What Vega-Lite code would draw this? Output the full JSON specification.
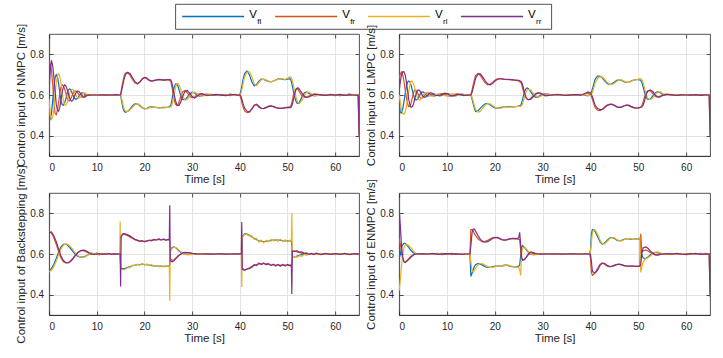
{
"$schema": "https://vega.github.io/schema/vega-lite/v6.json",
"padding": {"left": 14, "top": 3, "right": 5, "bottom": 5},
"config": {
  "font": "Liberation Sans",
  "view": {"stroke": "#262626", "strokeWidth": 0.8},
  "range": {"category": ["#0072BD", "#D95319", "#EDB120", "#7E2F8E"]},
  "axis": {"domainColor": "#262626", "tickColor": "#262626", "labelColor": "#262626", "titleColor": "#262626", "labelFontSize": 10, "titleFontSize": 11.5, "titleFontWeight": "normal", "gridColor": "#e3e3e3", "gridWidth": 1, "tickSize": -4, "domainWidth": 0.8, "tickWidth": 0.8}
},
"datasets": {
"n": [
{"t":0,"fl":0.5,"fr":0.765,"rl":0.58,"rr":0.62},
{"t":0.25,"fl":0.485,"fr":0.755,"rl":0.5,"rr":0.72},
{"t":0.5,"fl":0.51,"fr":0.72,"rl":0.48,"rr":0.77},
{"t":0.75,"fl":0.57,"fr":0.655,"rl":0.49,"rr":0.745},
{"t":1,"fl":0.635,"fr":0.57,"rl":0.53,"rr":0.69},
{"t":1.25,"fl":0.685,"fr":0.51,"rl":0.6,"rr":0.62},
{"t":1.5,"fl":0.7,"fr":0.503,"rl":0.66,"rr":0.555},
{"t":1.75,"fl":0.69,"fr":0.525,"rl":0.695,"rr":0.525},
{"t":2,"fl":0.655,"fr":0.565,"rl":0.705,"rr":0.52},
{"t":2.25,"fl":0.61,"fr":0.61,"rl":0.69,"rr":0.54},
{"t":2.5,"fl":0.57,"fr":0.64,"rl":0.655,"rr":0.575},
{"t":2.75,"fl":0.552,"fr":0.65,"rl":0.61,"rr":0.615},
{"t":3,"fl":0.55,"fr":0.645,"rl":0.57,"rr":0.64},
{"t":3.25,"fl":0.56,"fr":0.63,"rl":0.552,"rr":0.65},
{"t":3.5,"fl":0.58,"fr":0.61,"rl":0.55,"rr":0.645},
{"t":3.75,"fl":0.605,"fr":0.588,"rl":0.56,"rr":0.63},
{"t":4,"fl":0.623,"fr":0.573,"rl":0.58,"rr":0.61},
{"t":4.25,"fl":0.63,"fr":0.57,"rl":0.603,"rr":0.59},
{"t":4.5,"fl":0.627,"fr":0.578,"rl":0.62,"rr":0.575},
{"t":4.75,"fl":0.615,"fr":0.593,"rl":0.628,"rr":0.57},
{"t":5,"fl":0.6,"fr":0.607,"rl":0.628,"rr":0.575},
{"t":5.25,"fl":0.587,"fr":0.617,"rl":0.618,"rr":0.59},
{"t":5.5,"fl":0.58,"fr":0.62,"rl":0.605,"rr":0.605},
{"t":5.75,"fl":0.58,"fr":0.617,"rl":0.593,"rr":0.615},
{"t":6,"fl":0.585,"fr":0.61,"rl":0.586,"rr":0.62},
{"t":6.25,"fl":0.594,"fr":0.602,"rl":0.585,"rr":0.617},
{"t":6.5,"fl":0.603,"fr":0.595,"rl":0.59,"rr":0.61},
{"t":6.75,"fl":0.609,"fr":0.59,"rl":0.598,"rr":0.602},
{"t":7,"fl":0.61,"fr":0.59,"rl":0.605,"rr":0.595},
{"t":7.25,"fl":0.607,"fr":0.592,"rl":0.61,"rr":0.59},
{"t":7.5,"fl":0.602,"fr":0.597,"rl":0.61,"rr":0.59},
{"t":7.75,"fl":0.598,"fr":0.6,"rl":0.606,"rr":0.594},
{"t":8,"fl":0.598,"fr":0.602,"rl":0.601,"rr":0.598},
{"t":9,"fl":0.6,"fr":0.601,"rl":0.599,"rr":0.6},
{"t":10,"fl":0.601,"fr":0.599,"rl":0.602,"rr":0.6},
{"t":11,"fl":0.599,"fr":0.6,"rl":0.6,"rr":0.601},
{"t":12,"fl":0.6,"fr":0.602,"rl":0.598,"rr":0.599},
{"t":13,"fl":0.601,"fr":0.599,"rl":0.601,"rr":0.6},
{"t":14,"fl":0.6,"fr":0.601,"rl":0.6,"rr":0.602},
{"t":14.75,"fl":0.6,"fr":0.6,"rl":0.601,"rr":0.6},
{"t":15,"fl":0.598,"fr":0.603,"rl":0.6,"rr":0.6},
{"t":15.25,"fl":0.565,"fr":0.64,"rl":0.58,"rr":0.625},
{"t":15.5,"fl":0.535,"fr":0.67,"rl":0.55,"rr":0.655},
{"t":15.75,"fl":0.52,"fr":0.695,"rl":0.53,"rr":0.68},
{"t":16,"fl":0.515,"fr":0.708,"rl":0.522,"rr":0.7},
{"t":16.5,"fl":0.52,"fr":0.71,"rl":0.52,"rr":0.712},
{"t":17,"fl":0.532,"fr":0.695,"rl":0.528,"rr":0.705},
{"t":17.5,"fl":0.547,"fr":0.675,"rl":0.54,"rr":0.685},
{"t":18,"fl":0.556,"fr":0.66,"rl":0.552,"rr":0.665},
{"t":18.5,"fl":0.557,"fr":0.655,"rl":0.557,"rr":0.655},
{"t":19,"fl":0.548,"fr":0.665,"rl":0.552,"rr":0.662},
{"t":19.5,"fl":0.537,"fr":0.68,"rl":0.54,"rr":0.677},
{"t":20,"fl":0.532,"fr":0.686,"rl":0.533,"rr":0.686},
{"t":20.5,"fl":0.535,"fr":0.68,"rl":0.532,"rr":0.683},
{"t":21,"fl":0.54,"fr":0.671,"rl":0.537,"rr":0.673},
{"t":21.5,"fl":0.542,"fr":0.668,"rl":0.541,"rr":0.668},
{"t":22,"fl":0.54,"fr":0.672,"rl":0.54,"rr":0.671},
{"t":23,"fl":0.537,"fr":0.676,"rl":0.538,"rr":0.677},
{"t":24,"fl":0.539,"fr":0.672,"rl":0.537,"rr":0.674},
{"t":25,"fl":0.541,"fr":0.675,"rl":0.54,"rr":0.676},
{"t":25.5,"fl":0.548,"fr":0.668,"rl":0.54,"rr":0.675},
{"t":25.75,"fl":0.575,"fr":0.64,"rl":0.55,"rr":0.66},
{"t":26,"fl":0.61,"fr":0.605,"rl":0.575,"rr":0.63},
{"t":26.25,"fl":0.64,"fr":0.575,"rl":0.605,"rr":0.6},
{"t":26.5,"fl":0.654,"fr":0.555,"rl":0.635,"rr":0.572},
{"t":26.75,"fl":0.655,"fr":0.548,"rl":0.652,"rr":0.555},
{"t":27,"fl":0.645,"fr":0.552,"rl":0.656,"rr":0.548},
{"t":27.25,"fl":0.625,"fr":0.565,"rl":0.65,"rr":0.55},
{"t":27.5,"fl":0.605,"fr":0.585,"rl":0.635,"rr":0.56},
{"t":27.75,"fl":0.588,"fr":0.603,"rl":0.615,"rr":0.575},
{"t":28,"fl":0.578,"fr":0.615,"rl":0.595,"rr":0.593},
{"t":28.5,"fl":0.577,"fr":0.622,"rl":0.575,"rr":0.618},
{"t":29,"fl":0.59,"fr":0.61,"rl":0.578,"rr":0.622},
{"t":29.5,"fl":0.606,"fr":0.594,"rl":0.595,"rr":0.608},
{"t":30,"fl":0.614,"fr":0.586,"rl":0.61,"rr":0.592},
{"t":30.5,"fl":0.61,"fr":0.59,"rl":0.615,"rr":0.585},
{"t":31,"fl":0.6,"fr":0.6,"rl":0.608,"rr":0.592},
{"t":31.5,"fl":0.594,"fr":0.606,"rl":0.598,"rr":0.602},
{"t":32,"fl":0.596,"fr":0.605,"rl":0.593,"rr":0.607},
{"t":32.5,"fl":0.602,"fr":0.6,"rl":0.597,"rr":0.603},
{"t":33,"fl":0.604,"fr":0.597,"rl":0.603,"rr":0.598},
{"t":34,"fl":0.6,"fr":0.602,"rl":0.605,"rr":0.6},
{"t":35,"fl":0.598,"fr":0.6,"rl":0.6,"rr":0.603},
{"t":36,"fl":0.602,"fr":0.598,"rl":0.597,"rr":0.599},
{"t":37,"fl":0.6,"fr":0.603,"rl":0.601,"rr":0.597},
{"t":38,"fl":0.604,"fr":0.597,"rl":0.602,"rr":0.601},
{"t":39,"fl":0.598,"fr":0.6,"rl":0.597,"rr":0.603},
{"t":39.5,"fl":0.601,"fr":0.602,"rl":0.603,"rr":0.598},
{"t":40,"fl":0.602,"fr":0.598,"rl":0.6,"rr":0.6},
{"t":40.25,"fl":0.625,"fr":0.58,"rl":0.61,"rr":0.592},
{"t":40.5,"fl":0.655,"fr":0.555,"rl":0.635,"rr":0.572},
{"t":40.75,"fl":0.685,"fr":0.535,"rl":0.665,"rr":0.55},
{"t":41,"fl":0.705,"fr":0.522,"rl":0.69,"rr":0.535},
{"t":41.5,"fl":0.718,"fr":0.513,"rl":0.712,"rr":0.52},
{"t":42,"fl":0.7,"fr":0.515,"rl":0.715,"rr":0.518},
{"t":42.5,"fl":0.665,"fr":0.533,"rl":0.69,"rr":0.53},
{"t":43,"fl":0.645,"fr":0.55,"rl":0.655,"rr":0.548},
{"t":43.5,"fl":0.652,"fr":0.552,"rl":0.646,"rr":0.555},
{"t":44,"fl":0.668,"fr":0.54,"rl":0.662,"rr":0.545},
{"t":44.5,"fl":0.678,"fr":0.533,"rl":0.675,"rr":0.535},
{"t":45,"fl":0.677,"fr":0.535,"rl":0.678,"rr":0.533},
{"t":45.5,"fl":0.672,"fr":0.54,"rl":0.674,"rr":0.538},
{"t":46,"fl":0.667,"fr":0.545,"rl":0.668,"rr":0.543},
{"t":46.5,"fl":0.665,"fr":0.546,"rl":0.666,"rr":0.546},
{"t":47,"fl":0.668,"fr":0.542,"rl":0.667,"rr":0.544},
{"t":47.5,"fl":0.674,"fr":0.538,"rl":0.673,"rr":0.539},
{"t":48,"fl":0.679,"fr":0.535,"rl":0.678,"rr":0.535},
{"t":48.5,"fl":0.68,"fr":0.534,"rl":0.68,"rr":0.534},
{"t":49,"fl":0.677,"fr":0.536,"rl":0.679,"rr":0.535},
{"t":49.5,"fl":0.675,"fr":0.538,"rl":0.677,"rr":0.537},
{"t":50,"fl":0.678,"fr":0.54,"rl":0.682,"rr":0.538},
{"t":50.5,"fl":0.68,"fr":0.542,"rl":0.69,"rr":0.538},
{"t":50.75,"fl":0.67,"fr":0.55,"rl":0.688,"rr":0.54},
{"t":51,"fl":0.645,"fr":0.572,"rl":0.672,"rr":0.553},
{"t":51.25,"fl":0.615,"fr":0.6,"rl":0.645,"rr":0.578},
{"t":51.5,"fl":0.59,"fr":0.62,"rl":0.615,"rr":0.605},
{"t":51.75,"fl":0.57,"fr":0.63,"rl":0.59,"rr":0.625},
{"t":52,"fl":0.56,"fr":0.632,"rl":0.572,"rr":0.634},
{"t":52.25,"fl":0.558,"fr":0.625,"rl":0.562,"rr":0.635},
{"t":52.5,"fl":0.565,"fr":0.615,"rl":0.558,"rr":0.628},
{"t":53,"fl":0.59,"fr":0.597,"rl":0.572,"rr":0.61},
{"t":53.5,"fl":0.61,"fr":0.59,"rl":0.598,"rr":0.594},
{"t":54,"fl":0.615,"fr":0.59,"rl":0.613,"rr":0.588},
{"t":54.5,"fl":0.608,"fr":0.595,"rl":0.614,"rr":0.59},
{"t":55,"fl":0.6,"fr":0.601,"rl":0.606,"rr":0.597},
{"t":55.5,"fl":0.596,"fr":0.604,"rl":0.598,"rr":0.603},
{"t":56,"fl":0.598,"fr":0.602,"rl":0.596,"rr":0.604},
{"t":57,"fl":0.602,"fr":0.598,"rl":0.6,"rr":0.601},
{"t":58,"fl":0.599,"fr":0.601,"rl":0.603,"rr":0.598},
{"t":59,"fl":0.603,"fr":0.6,"rl":0.598,"rr":0.602},
{"t":60,"fl":0.6,"fr":0.597,"rl":0.601,"rr":0.599},
{"t":61,"fl":0.597,"fr":0.602,"rl":0.6,"rr":0.603},
{"t":62,"fl":0.601,"fr":0.6,"rl":0.603,"rr":0.598},
{"t":63,"fl":0.604,"fr":0.598,"rl":0.599,"rr":0.601},
{"t":64,"fl":0.599,"fr":0.601,"rl":0.602,"rr":0.6},
{"t":64.8,"fl":0.601,"fr":0.6,"rl":0.6,"rr":0.598},
{"t":65,"fl":0.6,"fr":0.4,"rl":0.6,"rr":0.4}
],
"l": [
{"t":0,"fl":0.56,"fr":0.68,"rl":0.6,"rr":0.62},
{"t":0.25,"fl":0.515,"fr":0.705,"rl":0.565,"rr":0.665},
{"t":0.5,"fl":0.512,"fr":0.713,"rl":0.53,"rr":0.7},
{"t":0.75,"fl":0.53,"fr":0.7,"rl":0.51,"rr":0.714},
{"t":1,"fl":0.565,"fr":0.67,"rl":0.505,"rr":0.715},
{"t":1.25,"fl":0.605,"fr":0.63,"rl":0.515,"rr":0.7},
{"t":1.5,"fl":0.64,"fr":0.59,"rl":0.54,"rr":0.67},
{"t":1.75,"fl":0.662,"fr":0.558,"rl":0.575,"rr":0.625},
{"t":2,"fl":0.669,"fr":0.543,"rl":0.615,"rr":0.58},
{"t":2.25,"fl":0.665,"fr":0.545,"rl":0.648,"rr":0.552},
{"t":2.5,"fl":0.648,"fr":0.56,"rl":0.667,"rr":0.54},
{"t":2.75,"fl":0.625,"fr":0.585,"rl":0.668,"rr":0.542},
{"t":3,"fl":0.6,"fr":0.61,"rl":0.655,"rr":0.556},
{"t":3.25,"fl":0.583,"fr":0.624,"rl":0.635,"rr":0.578},
{"t":3.5,"fl":0.576,"fr":0.624,"rl":0.612,"rr":0.602},
{"t":3.75,"fl":0.577,"fr":0.615,"rl":0.592,"rr":0.618},
{"t":4,"fl":0.585,"fr":0.603,"rl":0.579,"rr":0.625},
{"t":4.25,"fl":0.597,"fr":0.592,"rl":0.575,"rr":0.623},
{"t":4.5,"fl":0.608,"fr":0.586,"rl":0.578,"rr":0.614},
{"t":4.75,"fl":0.614,"fr":0.585,"rl":0.588,"rr":0.603},
{"t":5,"fl":0.615,"fr":0.588,"rl":0.598,"rr":0.594},
{"t":5.25,"fl":0.611,"fr":0.595,"rl":0.606,"rr":0.59},
{"t":5.5,"fl":0.604,"fr":0.603,"rl":0.61,"rr":0.59},
{"t":5.75,"fl":0.598,"fr":0.608,"rl":0.61,"rr":0.594},
{"t":6,"fl":0.595,"fr":0.61,"rl":0.606,"rr":0.6},
{"t":6.25,"fl":0.595,"fr":0.609,"rl":0.601,"rr":0.606},
{"t":6.5,"fl":0.598,"fr":0.604,"rl":0.597,"rr":0.61},
{"t":6.75,"fl":0.602,"fr":0.6,"rl":0.594,"rr":0.61},
{"t":7,"fl":0.605,"fr":0.597,"rl":0.595,"rr":0.607},
{"t":7.25,"fl":0.606,"fr":0.595,"rl":0.597,"rr":0.603},
{"t":7.5,"fl":0.604,"fr":0.596,"rl":0.6,"rr":0.599},
{"t":7.75,"fl":0.6,"fr":0.599,"rl":0.603,"rr":0.597},
{"t":8,"fl":0.598,"fr":0.602,"rl":0.604,"rr":0.598},
{"t":8.5,"fl":0.596,"fr":0.605,"rl":0.603,"rr":0.6},
{"t":9,"fl":0.598,"fr":0.607,"rl":0.6,"rr":0.603},
{"t":9.5,"fl":0.603,"fr":0.603,"rl":0.597,"rr":0.609},
{"t":10,"fl":0.607,"fr":0.597,"rl":0.596,"rr":0.607},
{"t":10.5,"fl":0.605,"fr":0.594,"rl":0.601,"rr":0.6},
{"t":11,"fl":0.6,"fr":0.597,"rl":0.605,"rr":0.595},
{"t":11.5,"fl":0.596,"fr":0.602,"rl":0.604,"rr":0.597},
{"t":12,"fl":0.597,"fr":0.605,"rl":0.6,"rr":0.602},
{"t":12.5,"fl":0.601,"fr":0.603,"rl":0.597,"rr":0.604},
{"t":13,"fl":0.604,"fr":0.599,"rl":0.598,"rr":0.601},
{"t":13.5,"fl":0.603,"fr":0.597,"rl":0.601,"rr":0.598},
{"t":14,"fl":0.6,"fr":0.599,"rl":0.603,"rr":0.598},
{"t":14.5,"fl":0.598,"fr":0.601,"rl":0.601,"rr":0.6},
{"t":15,"fl":0.6,"fr":0.601,"rl":0.6,"rr":0.6},
{"t":15.25,"fl":0.58,"fr":0.625,"rl":0.588,"rr":0.612},
{"t":15.5,"fl":0.555,"fr":0.652,"rl":0.568,"rr":0.635},
{"t":15.75,"fl":0.533,"fr":0.678,"rl":0.545,"rr":0.66},
{"t":16,"fl":0.519,"fr":0.697,"rl":0.528,"rr":0.683},
{"t":16.5,"fl":0.522,"fr":0.705,"rl":0.515,"rr":0.705},
{"t":17,"fl":0.535,"fr":0.695,"rl":0.52,"rr":0.704},
{"t":17.5,"fl":0.548,"fr":0.677,"rl":0.535,"rr":0.688},
{"t":18,"fl":0.557,"fr":0.66,"rl":0.55,"rr":0.67},
{"t":18.5,"fl":0.559,"fr":0.65,"rl":0.558,"rr":0.655},
{"t":19,"fl":0.552,"fr":0.652,"rl":0.557,"rr":0.65},
{"t":19.5,"fl":0.543,"fr":0.662,"rl":0.549,"rr":0.657},
{"t":20,"fl":0.537,"fr":0.673,"rl":0.54,"rr":0.668},
{"t":20.5,"fl":0.535,"fr":0.679,"rl":0.536,"rr":0.676},
{"t":21,"fl":0.537,"fr":0.68,"rl":0.535,"rr":0.68},
{"t":21.5,"fl":0.54,"fr":0.678,"rl":0.537,"rr":0.68},
{"t":22,"fl":0.541,"fr":0.677,"rl":0.54,"rr":0.678},
{"t":23,"fl":0.543,"fr":0.676,"rl":0.541,"rr":0.677},
{"t":24,"fl":0.542,"fr":0.673,"rl":0.543,"rr":0.674},
{"t":25,"fl":0.545,"fr":0.669,"rl":0.544,"rr":0.672},
{"t":25.5,"fl":0.552,"fr":0.66,"rl":0.545,"rr":0.667},
{"t":25.75,"fl":0.572,"fr":0.64,"rl":0.553,"rr":0.655},
{"t":26,"fl":0.597,"fr":0.618,"rl":0.572,"rr":0.632},
{"t":26.25,"fl":0.618,"fr":0.6,"rl":0.595,"rr":0.608},
{"t":26.5,"fl":0.63,"fr":0.588,"rl":0.613,"rr":0.59},
{"t":26.75,"fl":0.635,"fr":0.58,"rl":0.624,"rr":0.58},
{"t":27,"fl":0.632,"fr":0.577,"rl":0.628,"rr":0.577},
{"t":27.5,"fl":0.617,"fr":0.583,"rl":0.625,"rr":0.578},
{"t":28,"fl":0.6,"fr":0.597,"rl":0.61,"rr":0.59},
{"t":28.5,"fl":0.59,"fr":0.607,"rl":0.596,"rr":0.603},
{"t":29,"fl":0.59,"fr":0.61,"rl":0.59,"rr":0.61},
{"t":29.5,"fl":0.597,"fr":0.606,"rl":0.592,"rr":0.61},
{"t":30,"fl":0.603,"fr":0.6,"rl":0.6,"rr":0.604},
{"t":30.5,"fl":0.606,"fr":0.596,"rl":0.605,"rr":0.598},
{"t":31,"fl":0.604,"fr":0.598,"rl":0.606,"rr":0.597},
{"t":32,"fl":0.599,"fr":0.602,"rl":0.601,"rr":0.6},
{"t":33,"fl":0.598,"fr":0.601,"rl":0.598,"rr":0.603},
{"t":34,"fl":0.602,"fr":0.598,"rl":0.6,"rr":0.6},
{"t":35,"fl":0.6,"fr":0.6,"rl":0.603,"rr":0.598},
{"t":36,"fl":0.598,"fr":0.602,"rl":0.599,"rr":0.601},
{"t":37,"fl":0.601,"fr":0.599,"rl":0.598,"rr":0.602},
{"t":38,"fl":0.603,"fr":0.6,"rl":0.601,"rr":0.599},
{"t":39,"fl":0.598,"fr":0.606,"rl":0.6,"rr":0.61},
{"t":39.5,"fl":0.596,"fr":0.61,"rl":0.598,"rr":0.615},
{"t":40,"fl":0.605,"fr":0.6,"rl":0.598,"rr":0.61},
{"t":40.25,"fl":0.618,"fr":0.59,"rl":0.605,"rr":0.6},
{"t":40.5,"fl":0.638,"fr":0.572,"rl":0.62,"rr":0.585},
{"t":40.75,"fl":0.66,"fr":0.553,"rl":0.64,"rr":0.565},
{"t":41,"fl":0.678,"fr":0.538,"rl":0.66,"rr":0.548},
{"t":41.5,"fl":0.693,"fr":0.525,"rl":0.683,"rr":0.533},
{"t":42,"fl":0.693,"fr":0.523,"rl":0.69,"rr":0.528},
{"t":42.5,"fl":0.683,"fr":0.53,"rl":0.688,"rr":0.529},
{"t":43,"fl":0.668,"fr":0.542,"rl":0.675,"rr":0.538},
{"t":43.5,"fl":0.656,"fr":0.551,"rl":0.662,"rr":0.548},
{"t":44,"fl":0.651,"fr":0.555,"rl":0.653,"rr":0.553},
{"t":44.5,"fl":0.655,"fr":0.553,"rl":0.651,"rr":0.555},
{"t":45,"fl":0.664,"fr":0.547,"rl":0.658,"rr":0.55},
{"t":45.5,"fl":0.672,"fr":0.541,"rl":0.668,"rr":0.543},
{"t":46,"fl":0.675,"fr":0.538,"rl":0.674,"rr":0.539},
{"t":46.5,"fl":0.672,"fr":0.542,"rl":0.674,"rr":0.54},
{"t":47,"fl":0.666,"fr":0.547,"rl":0.668,"rr":0.546},
{"t":47.5,"fl":0.662,"fr":0.55,"rl":0.663,"rr":0.55},
{"t":48,"fl":0.664,"fr":0.547,"rl":0.662,"rr":0.55},
{"t":48.5,"fl":0.669,"fr":0.541,"rl":0.667,"rr":0.544},
{"t":49,"fl":0.673,"fr":0.537,"rl":0.672,"rr":0.539},
{"t":49.5,"fl":0.675,"fr":0.535,"rl":0.675,"rr":0.536},
{"t":50,"fl":0.676,"fr":0.537,"rl":0.678,"rr":0.537},
{"t":50.5,"fl":0.672,"fr":0.54,"rl":0.68,"rr":0.539},
{"t":50.75,"fl":0.66,"fr":0.548,"rl":0.675,"rr":0.542},
{"t":51,"fl":0.64,"fr":0.565,"rl":0.662,"rr":0.55},
{"t":51.25,"fl":0.617,"fr":0.588,"rl":0.64,"rr":0.568},
{"t":51.5,"fl":0.597,"fr":0.605,"rl":0.615,"rr":0.59},
{"t":51.75,"fl":0.585,"fr":0.615,"rl":0.595,"rr":0.608},
{"t":52,"fl":0.579,"fr":0.62,"rl":0.582,"rr":0.62},
{"t":52.5,"fl":0.58,"fr":0.62,"rl":0.577,"rr":0.625},
{"t":53,"fl":0.595,"fr":0.607,"rl":0.585,"rr":0.617},
{"t":53.5,"fl":0.61,"fr":0.594,"rl":0.602,"rr":0.6},
{"t":54,"fl":0.616,"fr":0.59,"rl":0.613,"rr":0.591},
{"t":54.5,"fl":0.612,"fr":0.594,"rl":0.616,"rr":0.59},
{"t":55,"fl":0.604,"fr":0.6,"rl":0.609,"rr":0.596},
{"t":55.5,"fl":0.598,"fr":0.603,"rl":0.601,"rr":0.602},
{"t":56,"fl":0.598,"fr":0.602,"rl":0.597,"rr":0.604},
{"t":57,"fl":0.601,"fr":0.599,"rl":0.6,"rr":0.601},
{"t":58,"fl":0.6,"fr":0.601,"rl":0.602,"rr":0.598},
{"t":59,"fl":0.602,"fr":0.598,"rl":0.599,"rr":0.601},
{"t":60,"fl":0.599,"fr":0.6,"rl":0.601,"rr":0.6},
{"t":61,"fl":0.601,"fr":0.602,"rl":0.598,"rr":0.599},
{"t":62,"fl":0.598,"fr":0.599,"rl":0.602,"rr":0.602},
{"t":63,"fl":0.602,"fr":0.6,"rl":0.6,"rr":0.598},
{"t":64,"fl":0.6,"fr":0.598,"rl":0.598,"rr":0.601},
{"t":64.8,"fl":0.597,"fr":0.6,"rl":0.601,"rr":0.6},
{"t":65,"fl":0.6,"fr":0.4,"rl":0.6,"rr":0.4}
],
"b": [
{"t":0,"fl":0.52,"fr":0.71,"rl":0.512,"rr":0.705},
{"t":0.5,"fl":0.528,"fr":0.702,"rl":0.52,"rr":0.708},
{"t":1,"fl":0.55,"fr":0.68,"rl":0.538,"rr":0.69},
{"t":1.5,"fl":0.578,"fr":0.648,"rl":0.565,"rr":0.66},
{"t":2,"fl":0.61,"fr":0.612,"rl":0.595,"rr":0.625},
{"t":2.5,"fl":0.635,"fr":0.58,"rl":0.625,"rr":0.59},
{"t":3,"fl":0.648,"fr":0.562,"rl":0.643,"rr":0.568},
{"t":3.5,"fl":0.649,"fr":0.556,"rl":0.65,"rr":0.557},
{"t":4,"fl":0.64,"fr":0.558,"rl":0.647,"rr":0.556},
{"t":4.5,"fl":0.627,"fr":0.566,"rl":0.636,"rr":0.563},
{"t":5,"fl":0.612,"fr":0.58,"rl":0.621,"rr":0.576},
{"t":5.5,"fl":0.598,"fr":0.596,"rl":0.605,"rr":0.592},
{"t":6,"fl":0.589,"fr":0.608,"rl":0.593,"rr":0.606},
{"t":6.5,"fl":0.585,"fr":0.615,"rl":0.586,"rr":0.615},
{"t":7,"fl":0.585,"fr":0.617,"rl":0.584,"rr":0.619},
{"t":7.5,"fl":0.588,"fr":0.614,"rl":0.586,"rr":0.618},
{"t":8,"fl":0.594,"fr":0.608,"rl":0.592,"rr":0.612},
{"t":8.5,"fl":0.599,"fr":0.603,"rl":0.6,"rr":0.605},
{"t":9,"fl":0.601,"fr":0.6,"rl":0.606,"rr":0.6},
{"t":9.5,"fl":0.6,"fr":0.598,"rl":0.596,"rr":0.598},
{"t":10,"fl":0.6,"fr":0.601,"rl":0.607,"rr":0.6},
{"t":10.5,"fl":0.601,"fr":0.6,"rl":0.594,"rr":0.602},
{"t":11,"fl":0.599,"fr":0.599,"rl":0.605,"rr":0.598},
{"t":11.5,"fl":0.6,"fr":0.601,"rl":0.597,"rr":0.601},
{"t":12,"fl":0.602,"fr":0.6,"rl":0.604,"rr":0.599},
{"t":12.5,"fl":0.599,"fr":0.598,"rl":0.598,"rr":0.603},
{"t":13,"fl":0.6,"fr":0.601,"rl":0.603,"rr":0.598},
{"t":13.5,"fl":0.601,"fr":0.6,"rl":0.598,"rr":0.601},
{"t":14,"fl":0.599,"fr":0.602,"rl":0.601,"rr":0.599},
{"t":14.5,"fl":0.6,"fr":0.599,"rl":0.6,"rr":0.6},
{"t":14.8,"fl":0.6,"fr":0.6,"rl":0.6,"rr":0.6},
{"t":14.9,"fl":0.6,"fr":0.6,"rl":0.76,"rr":0.6},
{"t":15,"fl":0.54,"fr":0.675,"rl":0.528,"rr":0.44},
{"t":15.1,"fl":0.53,"fr":0.69,"rl":0.525,"rr":0.685},
{"t":15.5,"fl":0.527,"fr":0.697,"rl":0.523,"rr":0.7},
{"t":16,"fl":0.53,"fr":0.695,"rl":0.525,"rr":0.699},
{"t":16.5,"fl":0.535,"fr":0.69,"rl":0.532,"rr":0.694},
{"t":17,"fl":0.538,"fr":0.683,"rl":0.534,"rr":0.688},
{"t":17.5,"fl":0.542,"fr":0.676,"rl":0.545,"rr":0.68},
{"t":18,"fl":0.545,"fr":0.67,"rl":0.543,"rr":0.672},
{"t":18.5,"fl":0.547,"fr":0.666,"rl":0.55,"rr":0.668},
{"t":19,"fl":0.548,"fr":0.664,"rl":0.545,"rr":0.662},
{"t":19.5,"fl":0.55,"fr":0.662,"rl":0.552,"rr":0.666},
{"t":20,"fl":0.548,"fr":0.663,"rl":0.546,"rr":0.66},
{"t":20.5,"fl":0.547,"fr":0.665,"rl":0.551,"rr":0.664},
{"t":21,"fl":0.545,"fr":0.666,"rl":0.543,"rr":0.668},
{"t":21.5,"fl":0.543,"fr":0.668,"rl":0.547,"rr":0.665},
{"t":22,"fl":0.542,"fr":0.669,"rl":0.54,"rr":0.672},
{"t":22.5,"fl":0.541,"fr":0.67,"rl":0.544,"rr":0.668},
{"t":23,"fl":0.54,"fr":0.671,"rl":0.537,"rr":0.675},
{"t":23.5,"fl":0.54,"fr":0.67,"rl":0.542,"rr":0.668},
{"t":24,"fl":0.539,"fr":0.671,"rl":0.536,"rr":0.674},
{"t":24.5,"fl":0.54,"fr":0.67,"rl":0.543,"rr":0.667},
{"t":25,"fl":0.54,"fr":0.67,"rl":0.538,"rr":0.672},
{"t":25.2,"fl":0.54,"fr":0.67,"rl":0.54,"rr":0.67},
{"t":25.3,"fl":0.55,"fr":0.66,"rl":0.37,"rr":0.84},
{"t":25.4,"fl":0.615,"fr":0.58,"rl":0.61,"rr":0.565},
{"t":25.8,"fl":0.632,"fr":0.568,"rl":0.628,"rr":0.562},
{"t":26.2,"fl":0.635,"fr":0.572,"rl":0.633,"rr":0.568},
{"t":26.6,"fl":0.63,"fr":0.58,"rl":0.632,"rr":0.578},
{"t":27,"fl":0.62,"fr":0.59,"rl":0.625,"rr":0.588},
{"t":27.5,"fl":0.61,"fr":0.598,"rl":0.613,"rr":0.598},
{"t":28,"fl":0.603,"fr":0.604,"rl":0.605,"rr":0.605},
{"t":28.5,"fl":0.599,"fr":0.607,"rl":0.598,"rr":0.608},
{"t":29,"fl":0.598,"fr":0.607,"rl":0.596,"rr":0.607},
{"t":29.5,"fl":0.598,"fr":0.605,"rl":0.597,"rr":0.606},
{"t":30,"fl":0.599,"fr":0.603,"rl":0.598,"rr":0.603},
{"t":31,"fl":0.6,"fr":0.601,"rl":0.6,"rr":0.601},
{"t":32,"fl":0.6,"fr":0.6,"rl":0.601,"rr":0.6},
{"t":33,"fl":0.601,"fr":0.599,"rl":0.599,"rr":0.601},
{"t":34,"fl":0.6,"fr":0.601,"rl":0.601,"rr":0.599},
{"t":35,"fl":0.599,"fr":0.6,"rl":0.6,"rr":0.6},
{"t":36,"fl":0.601,"fr":0.6,"rl":0.599,"rr":0.601},
{"t":37,"fl":0.6,"fr":0.599,"rl":0.601,"rr":0.599},
{"t":38,"fl":0.6,"fr":0.601,"rl":0.6,"rr":0.6},
{"t":39,"fl":0.599,"fr":0.6,"rl":0.6,"rr":0.601},
{"t":40,"fl":0.601,"fr":0.6,"rl":0.6,"rr":0.6},
{"t":40.3,"fl":0.6,"fr":0.6,"rl":0.6,"rr":0.6},
{"t":40.4,"fl":0.6,"fr":0.6,"rl":0.438,"rr":0.757},
{"t":40.5,"fl":0.685,"fr":0.53,"rl":0.68,"rr":0.525},
{"t":41,"fl":0.7,"fr":0.522,"rl":0.698,"rr":0.52},
{"t":41.5,"fl":0.698,"fr":0.525,"rl":0.695,"rr":0.527},
{"t":42,"fl":0.692,"fr":0.532,"rl":0.688,"rr":0.528},
{"t":42.5,"fl":0.685,"fr":0.538,"rl":0.69,"rr":0.535},
{"t":43,"fl":0.677,"fr":0.544,"rl":0.672,"rr":0.547},
{"t":43.5,"fl":0.67,"fr":0.548,"rl":0.676,"rr":0.543},
{"t":44,"fl":0.665,"fr":0.551,"rl":0.658,"rr":0.556},
{"t":44.5,"fl":0.662,"fr":0.552,"rl":0.668,"rr":0.548},
{"t":45,"fl":0.661,"fr":0.552,"rl":0.655,"rr":0.556},
{"t":45.5,"fl":0.662,"fr":0.551,"rl":0.667,"rr":0.547},
{"t":46,"fl":0.664,"fr":0.549,"rl":0.66,"rr":0.553},
{"t":46.5,"fl":0.666,"fr":0.547,"rl":0.671,"rr":0.543},
{"t":47,"fl":0.668,"fr":0.546,"rl":0.664,"rr":0.55},
{"t":47.5,"fl":0.669,"fr":0.545,"rl":0.673,"rr":0.541},
{"t":48,"fl":0.668,"fr":0.545,"rl":0.663,"rr":0.549},
{"t":48.5,"fl":0.667,"fr":0.545,"rl":0.672,"rr":0.54},
{"t":49,"fl":0.666,"fr":0.545,"rl":0.661,"rr":0.548},
{"t":49.5,"fl":0.665,"fr":0.546,"rl":0.67,"rr":0.541},
{"t":50,"fl":0.665,"fr":0.545,"rl":0.66,"rr":0.549},
{"t":50.5,"fl":0.664,"fr":0.545,"rl":0.668,"rr":0.542},
{"t":50.8,"fl":0.664,"fr":0.545,"rl":0.664,"rr":0.545},
{"t":50.9,"fl":0.64,"fr":0.57,"rl":0.8,"rr":0.403},
{"t":51,"fl":0.59,"fr":0.612,"rl":0.585,"rr":0.615},
{"t":51.5,"fl":0.585,"fr":0.615,"rl":0.588,"rr":0.612},
{"t":52,"fl":0.59,"fr":0.61,"rl":0.584,"rr":0.616},
{"t":52.5,"fl":0.594,"fr":0.607,"rl":0.592,"rr":0.609},
{"t":53,"fl":0.597,"fr":0.604,"rl":0.588,"rr":0.61},
{"t":53.5,"fl":0.599,"fr":0.602,"rl":0.598,"rr":0.603},
{"t":54,"fl":0.6,"fr":0.601,"rl":0.594,"rr":0.605},
{"t":54.5,"fl":0.6,"fr":0.6,"rl":0.602,"rr":0.598},
{"t":55,"fl":0.601,"fr":0.6,"rl":0.598,"rr":0.603},
{"t":55.5,"fl":0.6,"fr":0.601,"rl":0.603,"rr":0.597},
{"t":56,"fl":0.599,"fr":0.6,"rl":0.597,"rr":0.604},
{"t":57,"fl":0.601,"fr":0.599,"rl":0.603,"rr":0.597},
{"t":58,"fl":0.6,"fr":0.601,"rl":0.598,"rr":0.603},
{"t":59,"fl":0.6,"fr":0.6,"rl":0.602,"rr":0.598},
{"t":60,"fl":0.601,"fr":0.6,"rl":0.597,"rr":0.602},
{"t":61,"fl":0.599,"fr":0.601,"rl":0.603,"rr":0.598},
{"t":62,"fl":0.6,"fr":0.6,"rl":0.598,"rr":0.603},
{"t":63,"fl":0.601,"fr":0.599,"rl":0.602,"rr":0.597},
{"t":64,"fl":0.6,"fr":0.6,"rl":0.599,"rr":0.602},
{"t":65,"fl":0.6,"fr":0.601,"rl":0.601,"rr":0.599}
],
"e": [
{"t":0,"fl":0.575,"fr":0.675,"rl":0.42,"rr":0.83},
{"t":0.25,"fl":0.6,"fr":0.65,"rl":0.47,"rr":0.74},
{"t":0.5,"fl":0.63,"fr":0.61,"rl":0.54,"rr":0.64},
{"t":0.75,"fl":0.645,"fr":0.578,"rl":0.6,"rr":0.585},
{"t":1,"fl":0.652,"fr":0.562,"rl":0.63,"rr":0.563},
{"t":1.25,"fl":0.652,"fr":0.56,"rl":0.643,"rr":0.558},
{"t":1.5,"fl":0.647,"fr":0.565,"rl":0.647,"rr":0.562},
{"t":2,"fl":0.633,"fr":0.577,"rl":0.643,"rr":0.572},
{"t":2.5,"fl":0.617,"fr":0.589,"rl":0.63,"rr":0.585},
{"t":3,"fl":0.605,"fr":0.597,"rl":0.614,"rr":0.595},
{"t":3.5,"fl":0.6,"fr":0.6,"rl":0.603,"rr":0.6},
{"t":4,"fl":0.6,"fr":0.6,"rl":0.6,"rr":0.601},
{"t":5,"fl":0.601,"fr":0.599,"rl":0.6,"rr":0.601},
{"t":6,"fl":0.598,"fr":0.601,"rl":0.602,"rr":0.6},
{"t":7,"fl":0.602,"fr":0.6,"rl":0.599,"rr":0.603},
{"t":8,"fl":0.6,"fr":0.603,"rl":0.601,"rr":0.598},
{"t":9,"fl":0.597,"fr":0.6,"rl":0.603,"rr":0.601},
{"t":10,"fl":0.601,"fr":0.598,"rl":0.6,"rr":0.602},
{"t":11,"fl":0.603,"fr":0.601,"rl":0.597,"rr":0.599},
{"t":12,"fl":0.599,"fr":0.602,"rl":0.601,"rr":0.601},
{"t":13,"fl":0.601,"fr":0.599,"rl":0.603,"rr":0.598},
{"t":14,"fl":0.6,"fr":0.601,"rl":0.599,"rr":0.6},
{"t":14.8,"fl":0.6,"fr":0.6,"rl":0.6,"rr":0.6},
{"t":15,"fl":0.49,"fr":0.72,"rl":0.56,"rr":0.64},
{"t":15.25,"fl":0.505,"fr":0.72,"rl":0.515,"rr":0.705},
{"t":15.5,"fl":0.525,"fr":0.712,"rl":0.51,"rr":0.722},
{"t":15.75,"fl":0.54,"fr":0.7,"rl":0.52,"rr":0.722},
{"t":16,"fl":0.548,"fr":0.69,"rl":0.532,"rr":0.712},
{"t":16.5,"fl":0.553,"fr":0.675,"rl":0.546,"rr":0.69},
{"t":17,"fl":0.55,"fr":0.665,"rl":0.553,"rr":0.672},
{"t":17.5,"fl":0.544,"fr":0.66,"rl":0.552,"rr":0.662},
{"t":18,"fl":0.537,"fr":0.662,"rl":0.545,"rr":0.658},
{"t":18.5,"fl":0.534,"fr":0.667,"rl":0.538,"rr":0.661},
{"t":19,"fl":0.534,"fr":0.673,"rl":0.534,"rr":0.668},
{"t":19.5,"fl":0.537,"fr":0.679,"rl":0.534,"rr":0.676},
{"t":20,"fl":0.54,"fr":0.682,"rl":0.537,"rr":0.681},
{"t":20.5,"fl":0.541,"fr":0.68,"rl":0.54,"rr":0.682},
{"t":21,"fl":0.54,"fr":0.675,"rl":0.541,"rr":0.677},
{"t":21.5,"fl":0.542,"fr":0.67,"rl":0.54,"rr":0.671},
{"t":22,"fl":0.545,"fr":0.668,"rl":0.543,"rr":0.668},
{"t":22.5,"fl":0.545,"fr":0.671,"rl":0.546,"rr":0.669},
{"t":23,"fl":0.541,"fr":0.675,"rl":0.544,"rr":0.673},
{"t":23.5,"fl":0.538,"fr":0.677,"rl":0.54,"rr":0.676},
{"t":24,"fl":0.536,"fr":0.676,"rl":0.537,"rr":0.677},
{"t":24.5,"fl":0.537,"fr":0.674,"rl":0.536,"rr":0.676},
{"t":25,"fl":0.54,"fr":0.672,"rl":0.535,"rr":0.68},
{"t":25.2,"fl":0.545,"fr":0.67,"rl":0.52,"rr":0.707},
{"t":25.4,"fl":0.59,"fr":0.62,"rl":0.495,"rr":0.65},
{"t":25.6,"fl":0.635,"fr":0.575,"rl":0.6,"rr":0.585},
{"t":25.8,"fl":0.641,"fr":0.568,"rl":0.63,"rr":0.57},
{"t":26.2,"fl":0.632,"fr":0.575,"rl":0.635,"rr":0.572},
{"t":26.6,"fl":0.62,"fr":0.585,"rl":0.625,"rr":0.585},
{"t":27,"fl":0.608,"fr":0.596,"rl":0.612,"rr":0.6},
{"t":27.5,"fl":0.6,"fr":0.603,"rl":0.602,"rr":0.61},
{"t":28,"fl":0.597,"fr":0.604,"rl":0.596,"rr":0.607},
{"t":28.5,"fl":0.598,"fr":0.602,"rl":0.596,"rr":0.603},
{"t":29,"fl":0.6,"fr":0.6,"rl":0.599,"rr":0.6},
{"t":30,"fl":0.601,"fr":0.6,"rl":0.6,"rr":0.599},
{"t":31,"fl":0.6,"fr":0.601,"rl":0.599,"rr":0.6},
{"t":32,"fl":0.599,"fr":0.6,"rl":0.601,"rr":0.601},
{"t":33,"fl":0.601,"fr":0.599,"rl":0.6,"rr":0.6},
{"t":34,"fl":0.6,"fr":0.6,"rl":0.601,"rr":0.599},
{"t":35,"fl":0.6,"fr":0.601,"rl":0.599,"rr":0.6},
{"t":36,"fl":0.599,"fr":0.6,"rl":0.6,"rr":0.601},
{"t":37,"fl":0.601,"fr":0.6,"rl":0.6,"rr":0.6},
{"t":38,"fl":0.6,"fr":0.599,"rl":0.601,"rr":0.6},
{"t":39,"fl":0.6,"fr":0.6,"rl":0.6,"rr":0.601},
{"t":39.8,"fl":0.6,"fr":0.6,"rl":0.6,"rr":0.6},
{"t":40,"fl":0.62,"fr":0.58,"rl":0.61,"rr":0.6},
{"t":40.2,"fl":0.7,"fr":0.51,"rl":0.66,"rr":0.56},
{"t":40.4,"fl":0.72,"fr":0.495,"rl":0.705,"rr":0.515},
{"t":40.7,"fl":0.718,"fr":0.5,"rl":0.72,"rr":0.508},
{"t":41,"fl":0.71,"fr":0.51,"rl":0.717,"rr":0.507},
{"t":41.5,"fl":0.685,"fr":0.53,"rl":0.698,"rr":0.52},
{"t":42,"fl":0.66,"fr":0.55,"rl":0.668,"rr":0.545},
{"t":42.5,"fl":0.648,"fr":0.555,"rl":0.65,"rr":0.555},
{"t":43,"fl":0.655,"fr":0.548,"rl":0.65,"rr":0.553},
{"t":43.5,"fl":0.668,"fr":0.54,"rl":0.662,"rr":0.544},
{"t":44,"fl":0.678,"fr":0.538,"rl":0.675,"rr":0.538},
{"t":44.5,"fl":0.682,"fr":0.54,"rl":0.681,"rr":0.539},
{"t":45,"fl":0.677,"fr":0.545,"rl":0.68,"rr":0.543},
{"t":45.5,"fl":0.668,"fr":0.549,"rl":0.671,"rr":0.548},
{"t":46,"fl":0.664,"fr":0.549,"rl":0.665,"rr":0.55},
{"t":46.5,"fl":0.667,"fr":0.546,"rl":0.665,"rr":0.548},
{"t":47,"fl":0.672,"fr":0.542,"rl":0.67,"rr":0.544},
{"t":47.5,"fl":0.675,"fr":0.54,"rl":0.674,"rr":0.541},
{"t":48,"fl":0.674,"fr":0.54,"rl":0.676,"rr":0.54},
{"t":48.5,"fl":0.672,"fr":0.541,"rl":0.674,"rr":0.54},
{"t":49,"fl":0.673,"fr":0.54,"rl":0.672,"rr":0.541},
{"t":49.5,"fl":0.675,"fr":0.539,"rl":0.674,"rr":0.539},
{"t":50,"fl":0.674,"fr":0.54,"rl":0.676,"rr":0.539},
{"t":50.3,"fl":0.672,"fr":0.54,"rl":0.68,"rr":0.54},
{"t":50.5,"fl":0.665,"fr":0.7,"rl":0.51,"rr":0.545},
{"t":50.7,"fl":0.6,"fr":0.62,"rl":0.53,"rr":0.6},
{"t":51,"fl":0.58,"fr":0.615,"rl":0.56,"rr":0.63},
{"t":51.5,"fl":0.578,"fr":0.62,"rl":0.575,"rr":0.635},
{"t":52,"fl":0.585,"fr":0.615,"rl":0.582,"rr":0.628},
{"t":52.5,"fl":0.595,"fr":0.607,"rl":0.59,"rr":0.615},
{"t":53,"fl":0.603,"fr":0.6,"rl":0.6,"rr":0.605},
{"t":53.5,"fl":0.608,"fr":0.596,"rl":0.608,"rr":0.597},
{"t":54,"fl":0.607,"fr":0.596,"rl":0.61,"rr":0.595},
{"t":54.5,"fl":0.603,"fr":0.599,"rl":0.607,"rr":0.597},
{"t":55,"fl":0.6,"fr":0.601,"rl":0.602,"rr":0.6},
{"t":56,"fl":0.601,"fr":0.599,"rl":0.598,"rr":0.602},
{"t":57,"fl":0.598,"fr":0.602,"rl":0.601,"rr":0.599},
{"t":58,"fl":0.602,"fr":0.6,"rl":0.599,"rr":0.603},
{"t":59,"fl":0.6,"fr":0.598,"rl":0.603,"rr":0.6},
{"t":60,"fl":0.597,"fr":0.601,"rl":0.6,"rr":0.598},
{"t":61,"fl":0.601,"fr":0.603,"rl":0.598,"rr":0.601},
{"t":62,"fl":0.6,"fr":0.599,"rl":0.602,"rr":0.603},
{"t":63,"fl":0.603,"fr":0.6,"rl":0.6,"rr":0.598},
{"t":64,"fl":0.599,"fr":0.602,"rl":0.604,"rr":0.601},
{"t":64.8,"fl":0.601,"fr":0.598,"rl":0.6,"rr":0.6},
{"t":65,"fl":0.6,"fr":0.4,"rl":0.6,"rr":0.39}
]
},
"vconcat": [
  {
    "width": 376, "height": 25,
    "data": {"values": [{"s": "fl"}, {"s": "fr"}, {"s": "rl"}, {"s": "rr"}]},
    "encoding": {"x": {"field": "s", "type": "nominal", "scale": {"type": "point", "padding": 0.522, "align": 0.39}, "axis": null}},
    "layer": [
      {"mark": {"type": "point", "shape": "stroke", "size": 3844, "strokeWidth": 1.5, "opacity": 1, "filled": false},
       "encoding": {"color": {"field": "s", "type": "nominal", "legend": null}}},
      {"mark": {"type": "text", "text": "V", "dx": 36, "dy": -1.5, "align": "left", "baseline": "middle", "fontSize": 11.5, "color": "#000000"}},
      {"mark": {"type": "text", "dx": 44, "dy": 5, "align": "left", "baseline": "middle", "fontSize": 8, "color": "#000000"},
       "encoding": {"text": {"field": "s"}}},
      {"mark": {"type": "point", "opacity": 0},
       "encoding": {"y": {"datum": 0.5, "type": "quantitative", "scale": {"domain": [0, 1]}, "axis": {"orient": "right", "labels": false, "ticks": false, "domain": false, "grid": false, "title": ".", "titleOpacity": 0, "titleFontSize": 10, "titlePadding": 23, "minExtent": 0, "maxExtent": 0}}}}
    ]
  },
  {
    "hconcat": [
      {
        "bounds": "flush", "spacing": 37,
        "vconcat": [
          {
            "width": 310, "height": 122,
            "data": {"name": "n"},
            "transform": [{"fold": ["fl", "fr", "rl", "rr"], "as": ["s", "v"]}],
            "layer": [
              {"mark": {"type": "line", "strokeWidth": 1.2, "clip": true},
               "encoding": {
                 "x": {"field": "t", "type": "quantitative", "scale": {"domain": [0, 65], "nice": false}, "axis": {"title": "Time [s]", "values": [0, 10, 20, 30, 40, 50, 60], "grid": true, "labelPadding": 10, "titlePadding": 1}},
                 "y": {"field": "v", "type": "quantitative", "scale": {"domain": [0.3, 0.9], "nice": false, "zero": false}, "axis": {"title": "Control input of NMPC [m/s]", "values": [0.4, 0.6, 0.8], "format": ".1f", "grid": true, "labelPadding": 9.5, "titlePadding": 3.5}},
                 "color": {"field": "s", "type": "nominal", "legend": null}}},
              {"mark": {"type": "point", "opacity": 0},
               "encoding": {
                 "x": {"datum": 0, "type": "quantitative", "axis": {"orient": "top", "values": [0, 10, 20, 30, 40, 50, 60], "labels": false, "title": null, "grid": false, "domain": false, "minExtent": 0, "maxExtent": 0}},
                 "y": {"datum": 0.6, "type": "quantitative", "axis": {"orient": "right", "values": [0.4, 0.6, 0.8], "labels": false, "title": null, "grid": false, "domain": false, "minExtent": 0, "maxExtent": 0}}}}
            ],
            "resolve": {"axis": {"x": "independent", "y": "independent"}}
          },
          {
            "width": 310, "height": 122,
            "data": {"name": "b"},
            "transform": [{"fold": ["fl", "fr", "rl", "rr"], "as": ["s", "v"]}],
            "layer": [
              {"mark": {"type": "line", "strokeWidth": 1.2, "clip": true},
               "encoding": {
                 "x": {"field": "t", "type": "quantitative", "scale": {"domain": [0, 65], "nice": false}, "axis": {"title": "Time [s]", "values": [0, 10, 20, 30, 40, 50, 60], "grid": true, "labelPadding": 10, "titlePadding": 1}},
                 "y": {"field": "v", "type": "quantitative", "scale": {"domain": [0.3, 0.9], "nice": false, "zero": false}, "axis": {"title": "Control input of Backstepping [m/s]", "values": [0.4, 0.6, 0.8], "format": ".1f", "grid": true, "labelPadding": 9.5, "titlePadding": 3.5}},
                 "color": {"field": "s", "type": "nominal", "legend": null}}},
              {"mark": {"type": "point", "opacity": 0},
               "encoding": {
                 "x": {"datum": 0, "type": "quantitative", "axis": {"orient": "top", "values": [0, 10, 20, 30, 40, 50, 60], "labels": false, "title": null, "grid": false, "domain": false, "minExtent": 0, "maxExtent": 0}},
                 "y": {"datum": 0.6, "type": "quantitative", "axis": {"orient": "right", "values": [0.4, 0.6, 0.8], "labels": false, "title": null, "grid": false, "domain": false, "minExtent": 0, "maxExtent": 0}}}}
            ],
            "resolve": {"axis": {"x": "independent", "y": "independent"}}
          }
        ]
      },
      {
        "bounds": "flush", "spacing": 37,
        "vconcat": [
          {
            "width": 311, "height": 122,
            "data": {"name": "l"},
            "transform": [{"fold": ["fl", "fr", "rl", "rr"], "as": ["s", "v"]}],
            "layer": [
              {"mark": {"type": "line", "strokeWidth": 1.2, "clip": true},
               "encoding": {
                 "x": {"field": "t", "type": "quantitative", "scale": {"domain": [0, 65], "nice": false}, "axis": {"title": "Time [s]", "values": [0, 10, 20, 30, 40, 50, 60], "grid": true, "labelPadding": 10, "titlePadding": 1}},
                 "y": {"field": "v", "type": "quantitative", "scale": {"domain": [0.3, 0.9], "nice": false, "zero": false}, "axis": {"title": "Control input of LMPC [m/s]", "values": [0.4, 0.6, 0.8], "format": ".1f", "grid": true, "labelPadding": 9.5, "titlePadding": 3.5}},
                 "color": {"field": "s", "type": "nominal", "legend": null}}},
              {"mark": {"type": "point", "opacity": 0},
               "encoding": {
                 "x": {"datum": 0, "type": "quantitative", "axis": {"orient": "top", "values": [0, 10, 20, 30, 40, 50, 60], "labels": false, "title": null, "grid": false, "domain": false, "minExtent": 0, "maxExtent": 0}},
                 "y": {"datum": 0.6, "type": "quantitative", "axis": {"orient": "right", "values": [0.4, 0.6, 0.8], "labels": false, "title": null, "grid": false, "domain": false, "minExtent": 0, "maxExtent": 0}}}}
            ],
            "resolve": {"axis": {"x": "independent", "y": "independent"}}
          },
          {
            "width": 311, "height": 122,
            "data": {"name": "e"},
            "transform": [{"fold": ["fl", "fr", "rl", "rr"], "as": ["s", "v"]}],
            "layer": [
              {"mark": {"type": "line", "strokeWidth": 1.2, "clip": true},
               "encoding": {
                 "x": {"field": "t", "type": "quantitative", "scale": {"domain": [0, 65], "nice": false}, "axis": {"title": "Time [s]", "values": [0, 10, 20, 30, 40, 50, 60], "grid": true, "labelPadding": 10, "titlePadding": 1}},
                 "y": {"field": "v", "type": "quantitative", "scale": {"domain": [0.3, 0.9], "nice": false, "zero": false}, "axis": {"title": "Control input of ENMPC [m/s]", "values": [0.4, 0.6, 0.8], "format": ".1f", "grid": true, "labelPadding": 9.5, "titlePadding": 3.5}},
                 "color": {"field": "s", "type": "nominal", "legend": null}}},
              {"mark": {"type": "point", "opacity": 0},
               "encoding": {
                 "x": {"datum": 0, "type": "quantitative", "axis": {"orient": "top", "values": [0, 10, 20, 30, 40, 50, 60], "labels": false, "title": null, "grid": false, "domain": false, "minExtent": 0, "maxExtent": 0}},
                 "y": {"datum": 0.6, "type": "quantitative", "axis": {"orient": "right", "values": [0.4, 0.6, 0.8], "labels": false, "title": null, "grid": false, "domain": false, "minExtent": 0, "maxExtent": 0}}}}
            ],
            "resolve": {"axis": {"x": "independent", "y": "independent"}}
          }
        ]
      }
    ],
    "spacing": 4
  }
],
"spacing": -7,
"center": true
}
